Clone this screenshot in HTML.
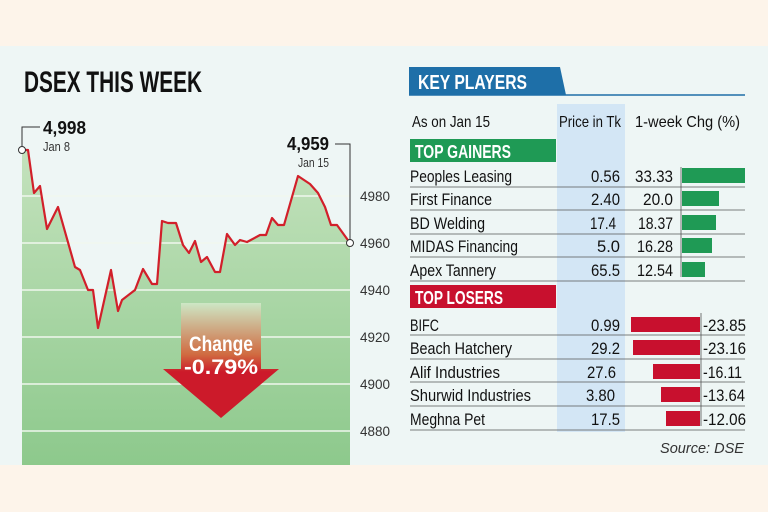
<!DOCTYPE html>
<html><head><meta charset="utf-8"><style>
html,body{margin:0;padding:0;width:768px;height:512px;overflow:hidden;background:#fdf4ea}
svg{display:block}
text{font-family:"Liberation Sans Narrow","Liberation Sans",sans-serif}
</style></head><body>
<svg width="768" height="512" viewBox="0 0 768 512">
<defs>
<linearGradient id="gf" x1="0" y1="0" x2="0" y2="1"><stop offset="0" stop-color="#c4e2bd"/><stop offset="1" stop-color="#8dc98c"/></linearGradient>
<linearGradient id="ga" x1="0" y1="0" x2="0" y2="1"><stop offset="0" stop-color="#cde7c5"/><stop offset="0.45" stop-color="#d06a40"/><stop offset="0.6" stop-color="#cc1a2a"/><stop offset="1" stop-color="#cc1a2a"/></linearGradient>
</defs>
<rect x="0" y="0" width="768" height="512" fill="#fdf4ea"/>
<rect x="0" y="46" width="768" height="419" fill="#eef6f5"/>
<text x="24" y="92" font-size="30" font-weight="bold" fill="#111" textLength="178" lengthAdjust="spacingAndGlyphs">DSEX THIS WEEK</text>
<polygon fill="url(#gf)" points="22,150 28,150 34,193 40,186 47,229 58,207 75,267 80,270 88,290 93,290 98,328 111,270 118,311 122,300 135,290 143,269 152,284 157,284 162,221 168,223 176,223 183,245 189,253 195,241 201,262 207,257 215,272 220,272 227,234 235,245 240,240 247,242 260,235 266,235 272,218 278,225 284,225 298,176 310,184 318,193 325,207 331,225 337,225 350,243 350,465 22,465"/>
<g stroke="#f0f7ee" stroke-width="1.5">
<line x1="22" y1="196" x2="350" y2="196"/><line x1="22" y1="243" x2="350" y2="243"/><line x1="22" y1="290" x2="350" y2="290"/><line x1="22" y1="337" x2="350" y2="337"/><line x1="22" y1="384" x2="350" y2="384"/><line x1="22" y1="431" x2="350" y2="431"/>
</g>
<polyline fill="none" stroke="#d21f2a" stroke-width="2.2" stroke-linejoin="round" points="22,150 28,150 34,193 40,186 47,229 58,207 75,267 80,270 88,290 93,290 98,328 111,270 118,311 122,300 135,290 143,269 152,284 157,284 162,221 168,223 176,223 183,245 189,253 195,241 201,262 207,257 215,272 220,272 227,234 235,245 240,240 247,242 260,235 266,235 272,218 278,225 284,225 298,176 310,184 318,193 325,207 331,225 337,225 350,243"/>
<polyline fill="none" stroke="#333" stroke-width="1" points="22,150 22,127 40,127"/>
<polyline fill="none" stroke="#333" stroke-width="1" points="350,243 350,144 335,144"/>
<circle cx="22" cy="150" r="3.5" fill="#fff" stroke="#333"/>
<circle cx="350" cy="243" r="3.5" fill="#fff" stroke="#333"/>
<text x="43" y="134" font-size="18" font-weight="bold" fill="#111" textLength="43" lengthAdjust="spacingAndGlyphs">4,998</text>
<text x="43" y="151" font-size="13" fill="#333" textLength="27" lengthAdjust="spacingAndGlyphs">Jan 8</text>
<text x="287" y="150" font-size="18" font-weight="bold" fill="#111" textLength="42" lengthAdjust="spacingAndGlyphs">4,959</text>
<text x="298" y="167" font-size="13" fill="#333" textLength="31" lengthAdjust="spacingAndGlyphs">Jan 15</text>
<g font-size="14" fill="#333">
<text x="360" y="201" textLength="30" lengthAdjust="spacingAndGlyphs">4980</text><text x="360" y="248" textLength="30" lengthAdjust="spacingAndGlyphs">4960</text><text x="360" y="295" textLength="30" lengthAdjust="spacingAndGlyphs">4940</text><text x="360" y="342" textLength="30" lengthAdjust="spacingAndGlyphs">4920</text><text x="360" y="389" textLength="30" lengthAdjust="spacingAndGlyphs">4900</text><text x="360" y="436" textLength="30" lengthAdjust="spacingAndGlyphs">4880</text>
</g>
<polygon fill="url(#ga)" points="181,303 261,303 261,369 279,369 221,418 163,369 181,369"/>
<text x="189" y="351" font-size="21" font-weight="bold" fill="#fff" textLength="64" lengthAdjust="spacingAndGlyphs">Change</text>
<text x="184" y="374" font-size="21" font-weight="bold" fill="#fff" textLength="74" lengthAdjust="spacingAndGlyphs">-0.79%</text>
<!-- right -->
<polygon fill="#1e6fa8" points="409,67 560,67 566,95 409,95"/>
<line x1="409" y1="95" x2="745" y2="95" stroke="#1e6fa8" stroke-width="1.5"/>
<text x="418" y="89" font-size="20" font-weight="bold" fill="#fff" textLength="109" lengthAdjust="spacingAndGlyphs">KEY PLAYERS</text>
<rect x="557" y="104" width="68" height="328" fill="#d3e6f5"/>
<g font-size="16" fill="#111">
<text x="412" y="127" textLength="78" lengthAdjust="spacingAndGlyphs">As on Jan 15</text>
<text x="559" y="127" textLength="62" lengthAdjust="spacingAndGlyphs">Price in Tk</text>
<text x="635" y="127" textLength="105" lengthAdjust="spacingAndGlyphs">1-week Chg (%)</text>
</g>
<rect x="410" y="139" width="146" height="23" fill="#1f9a55"/>
<text x="415" y="158" font-size="18" font-weight="bold" fill="#fff" textLength="96" lengthAdjust="spacingAndGlyphs">TOP GAINERS</text>
<rect x="410" y="285" width="146" height="23" fill="#c8102e"/>
<text x="415" y="304" font-size="18" font-weight="bold" fill="#fff" textLength="88" lengthAdjust="spacingAndGlyphs">TOP LOSERS</text>
<g stroke="#555" stroke-width="0.8">
<line x1="410" y1="187" x2="745" y2="187"/><line x1="410" y1="210" x2="745" y2="210"/><line x1="410" y1="234" x2="745" y2="234"/><line x1="410" y1="257" x2="745" y2="257"/><line x1="410" y1="281" x2="745" y2="281"/>
<line x1="410" y1="335" x2="745" y2="335"/><line x1="410" y1="359" x2="745" y2="359"/><line x1="410" y1="382" x2="745" y2="382"/><line x1="410" y1="406" x2="745" y2="406"/><line x1="410" y1="430" x2="745" y2="430"/>
<line x1="681" y1="167" x2="681" y2="277"/><line x1="701" y1="313" x2="701" y2="426"/>
</g>
<g fill="#1f9a55">
<rect x="682" y="168" width="63" height="15"/><rect x="682" y="191" width="37" height="15"/><rect x="682" y="215" width="34" height="15"/><rect x="682" y="238" width="30" height="15"/><rect x="682" y="262" width="23" height="15"/>
</g>
<g fill="#c8102e">
<rect x="631" y="317" width="69" height="15"/><rect x="633" y="340" width="67" height="15"/><rect x="653" y="364" width="47" height="15"/><rect x="661" y="387" width="39" height="15"/><rect x="666" y="411" width="34" height="15"/>
</g>
<g font-size="17" fill="#111">
<text x="410" y="182" textLength="102" lengthAdjust="spacingAndGlyphs">Peoples Leasing</text><text x="591" y="182" textLength="29" lengthAdjust="spacingAndGlyphs">0.56</text><text x="635" y="182" textLength="38" lengthAdjust="spacingAndGlyphs">33.33</text>
<text x="410" y="205" textLength="82" lengthAdjust="spacingAndGlyphs">First Finance</text><text x="591" y="205" textLength="29" lengthAdjust="spacingAndGlyphs">2.40</text><text x="643" y="205" textLength="30" lengthAdjust="spacingAndGlyphs">20.0</text>
<text x="410" y="229" textLength="75" lengthAdjust="spacingAndGlyphs">BD Welding</text><text x="590" y="229" textLength="26" lengthAdjust="spacingAndGlyphs">17.4</text><text x="638" y="229" textLength="35" lengthAdjust="spacingAndGlyphs">18.37</text>
<text x="410" y="252" textLength="108" lengthAdjust="spacingAndGlyphs">MIDAS Financing</text><text x="597" y="252" textLength="23" lengthAdjust="spacingAndGlyphs">5.0</text><text x="637" y="252" textLength="36" lengthAdjust="spacingAndGlyphs">16.28</text>
<text x="410" y="276" textLength="86" lengthAdjust="spacingAndGlyphs">Apex Tannery</text><text x="591" y="276" textLength="29" lengthAdjust="spacingAndGlyphs">65.5</text><text x="637" y="276" textLength="36" lengthAdjust="spacingAndGlyphs">12.54</text>
<text x="410" y="331" textLength="29" lengthAdjust="spacingAndGlyphs">BIFC</text><text x="591" y="331" textLength="29" lengthAdjust="spacingAndGlyphs">0.99</text><text x="703" y="331" textLength="43" lengthAdjust="spacingAndGlyphs">-23.85</text>
<text x="410" y="354" textLength="102" lengthAdjust="spacingAndGlyphs">Beach Hatchery</text><text x="591" y="354" textLength="29" lengthAdjust="spacingAndGlyphs">29.2</text><text x="703" y="354" textLength="43" lengthAdjust="spacingAndGlyphs">-23.16</text>
<text x="410" y="378" textLength="90" lengthAdjust="spacingAndGlyphs">Alif Industries</text><text x="587" y="378" textLength="29" lengthAdjust="spacingAndGlyphs">27.6</text><text x="703" y="378" textLength="39" lengthAdjust="spacingAndGlyphs">-16.11</text>
<text x="410" y="401" textLength="121" lengthAdjust="spacingAndGlyphs">Shurwid Industries</text><text x="586" y="401" textLength="29" lengthAdjust="spacingAndGlyphs">3.80</text><text x="703" y="401" textLength="42" lengthAdjust="spacingAndGlyphs">-13.64</text>
<text x="410" y="425" textLength="75" lengthAdjust="spacingAndGlyphs">Meghna Pet</text><text x="591" y="425" textLength="29" lengthAdjust="spacingAndGlyphs">17.5</text><text x="703" y="425" textLength="43" lengthAdjust="spacingAndGlyphs">-12.06</text>
</g>
<text x="660" y="453" font-size="15" font-style="italic" fill="#333" textLength="84" lengthAdjust="spacingAndGlyphs">Source: DSE</text>
</svg>
</body></html>
